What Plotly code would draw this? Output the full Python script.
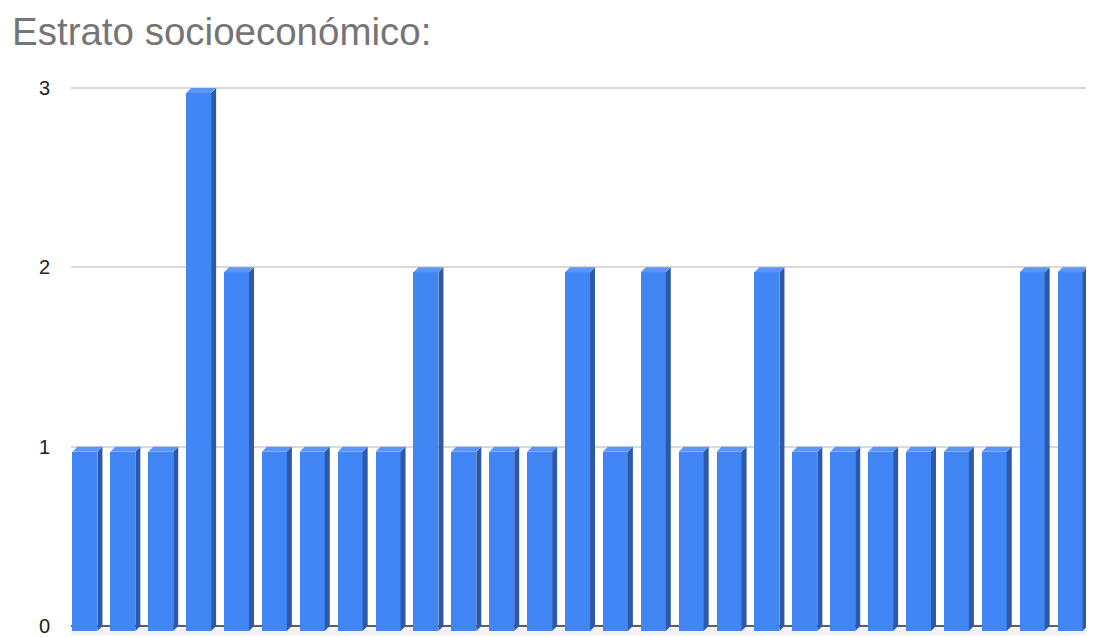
import plotly.graph_objects as go

# ---- data ----
categories = [str(i) for i in range(1, 28)]
values = [1, 1, 1, 3, 2, 1, 1, 1, 1, 2, 1, 1, 1, 2, 1, 2, 1, 1, 2, 1, 1, 1, 1, 1, 1, 2, 2]
y_ticks = [0, 1, 2, 3]
title_text = "Estrato socioeconómico:"

# ---- layout geometry (page body has an 8px margin) ----
OFF = 8
W, H = 1094 - OFF, 637 - OFF
ml, mr, mt, mb = 71 - OFF, 0, 62, 0
n = len(values)
x_range = [-0.5, n - 0.5]
y_range = [-0.05, 3.1]
px_x = (W - ml - mr) / (x_range[1] - x_range[0])
px_y = (H - mt - mb) / (y_range[1] - y_range[0])
dx = 5 / px_x          # 3D depth offset (horizontal)
dy = 5 / px_y          # 3D depth offset (vertical)
bw = 25 / px_x         # front face width

FRONT = "#4285F4"
SIDE = "#2C59A8"
TOP = "#5B95F6"

xs = list(range(n))
front_x = [i - dx for i in xs]

side_x, side_y, top_x, top_y = [], [], [], []
for i, v in zip(xs, values):
    xl = i - dx - bw / 2
    xr = i - dx + bw / 2
    side_x += [xr, xr, xr + dx, xr + dx, xr, None]
    side_y += [-dy, v - dy, v, 0, -dy, None]
    top_x += [xl, xl + dx, xr + dx, xr, xl, None]
    top_y += [v - dy, v, v, v - dy, v - dy, None]

fig = go.Figure()
fig.add_trace(go.Bar(
    x=front_x, y=values, base=-dy, width=bw,
    marker=dict(color=FRONT, line=dict(width=0)),
    hovertext=categories, showlegend=False,
))
fig.add_trace(go.Scatter(
    x=side_x, y=side_y, mode="lines", fill="toself",
    fillcolor=SIDE, line=dict(width=0, color=SIDE),
    hoverinfo="skip", showlegend=False,
))
fig.add_trace(go.Scatter(
    x=top_x, y=top_y, mode="lines", fill="toself",
    fillcolor=TOP, line=dict(width=0, color=TOP),
    hoverinfo="skip", showlegend=False,
))

FONT = "Liberation Sans, Arial, sans-serif"
fig.update_layout(
    width=W, height=H,
    margin=dict(l=ml, r=mr, t=mt, b=mb, pad=0),
    paper_bgcolor="white", plot_bgcolor="white",
    font=dict(family=FONT, color="#222222"),
    title=dict(
        text=title_text, xref="container", yref="container",
        x=(12 - OFF) / W, xanchor="left", y=1 - (32 - OFF) / H, yanchor="middle",
        font=dict(family=FONT, size=38.5, color="#757575"),
    ),
    showlegend=False,
    bargap=0,
    shapes=[dict(
        type="rect", xref="paper", x0=0, x1=1, yref="y", y0=y_range[0], y1=0,
        fillcolor="#f2f2f2", line=dict(width=0), layer="below",
    )],
)
fig.update_xaxes(
    range=x_range, showgrid=False, zeroline=False, showticklabels=False,
    ticks="", showline=False, fixedrange=True,
)
fig.update_yaxes(
    range=y_range, tickvals=y_ticks, ticktext=[str(t) for t in y_ticks],
    showgrid=True, gridcolor="#d9d9d9", gridwidth=1.5,
    zeroline=True, zerolinecolor="#5f5f5f", zerolinewidth=1.5,
    showline=False, ticks="", ticklabelstandoff=20, ticklabeloverflow="allow",
    tickfont=dict(family=FONT, size=20, color="#222222"), fixedrange=True,
)

fig.write_html("out.html")
